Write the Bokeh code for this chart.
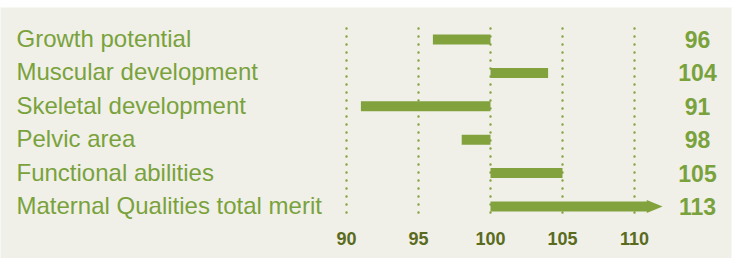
from bokeh.plotting import figure
from bokeh.models import Range1d
from bokeh.core.properties import value
from bokeh.embed import file_html
from bokeh.resources import INLINE

# ---- data ----
traits = ["Growth potential", "Muscular development", "Skeletal development",
          "Pelvic area", "Functional abilities", "Maternal Qualities total merit"]
scores = [96, 104, 91, 98, 105, 113]
ticks = [90, 95, 100, 105, 110]
baseline = 100
axis_cap = 111  # bars beyond this are drawn with an arrow

# ---- styles ----
BG = "#f0f0e8"
BAR = "#82a23e"
TXT = "#7aa23c"
TICK = "#5a6b1e"
FONT = "Liberation Sans"

W, H = 738, 258
TOP, RIGHT = 7, 7
FW, FH = W - RIGHT, H - TOP
px_per_unit = 14.4
x0 = 90 - 346 / px_per_unit
row_px = 33.4
row0_px = 39 - TOP
y_top = -row0_px / row_px
y_bot = (FH - row0_px) / row_px

p = figure(width=W, height=H, output_backend="svg", toolbar_location=None,
           x_range=Range1d(x0, x0 + FW / px_per_unit),
           y_range=Range1d(y_bot, y_top),
           min_border=0, min_border_top=TOP, min_border_right=RIGHT,
           outline_line_color=None,
           background_fill_color=BG, border_fill_color="white")
p.axis.visible = False
p.grid.visible = False

rows = list(range(len(traits)))

# dotted gridlines
p.segment(x0=ticks, x1=ticks, y0=[-0.33] * len(ticks), y1=[5.39] * len(ticks),
          line_color=BAR, line_width=2.4, line_dash="0 8", line_cap="round")

# bars
lefts = [min(v, baseline) for v in scores]
rights = [min(max(v, baseline), axis_cap) for v in scores]
p.hbar(y=rows, left=lefts, right=rights, height=10 / row_px,
       fill_color=BAR, line_color=None)

# arrows for overflowing bars
axs, ays = [], []
for r, v in zip(rows, scores):
    if v > axis_cap:
        h = 6.5 / row_px
        axs.append([axis_cap - 0.15, axis_cap + 0.95, axis_cap - 0.15])
        ays.append([r - h, r, r + h])
p.patches(xs=axs, ys=ays, fill_color=BAR, line_color=None)

# trait labels
p.text(x=[x0 + 16 / px_per_unit] * len(traits), y=rows, text=traits,
       text_font=value(FONT), text_font_size="24px", text_color=TXT,
       text_baseline="middle", text_align="left", y_offset=-1)

# value labels
p.text(x=[x0 + 697 / px_per_unit] * len(scores), y=rows, text=[str(v) for v in scores],
       text_font=value(FONT), text_font_size="23px", text_font_style="bold",
       text_color=TXT, text_baseline="middle", text_align="center", y_offset=0)

# tick labels
p.text(x=ticks, y=[(238 - 39) / row_px] * len(ticks), text=[str(t) for t in ticks],
       text_font=value(FONT), text_font_size="18px", text_font_style="bold",
       text_color=TICK, text_baseline="middle", text_align="center")

open("out.html", "w").write(file_html(p, INLINE))
